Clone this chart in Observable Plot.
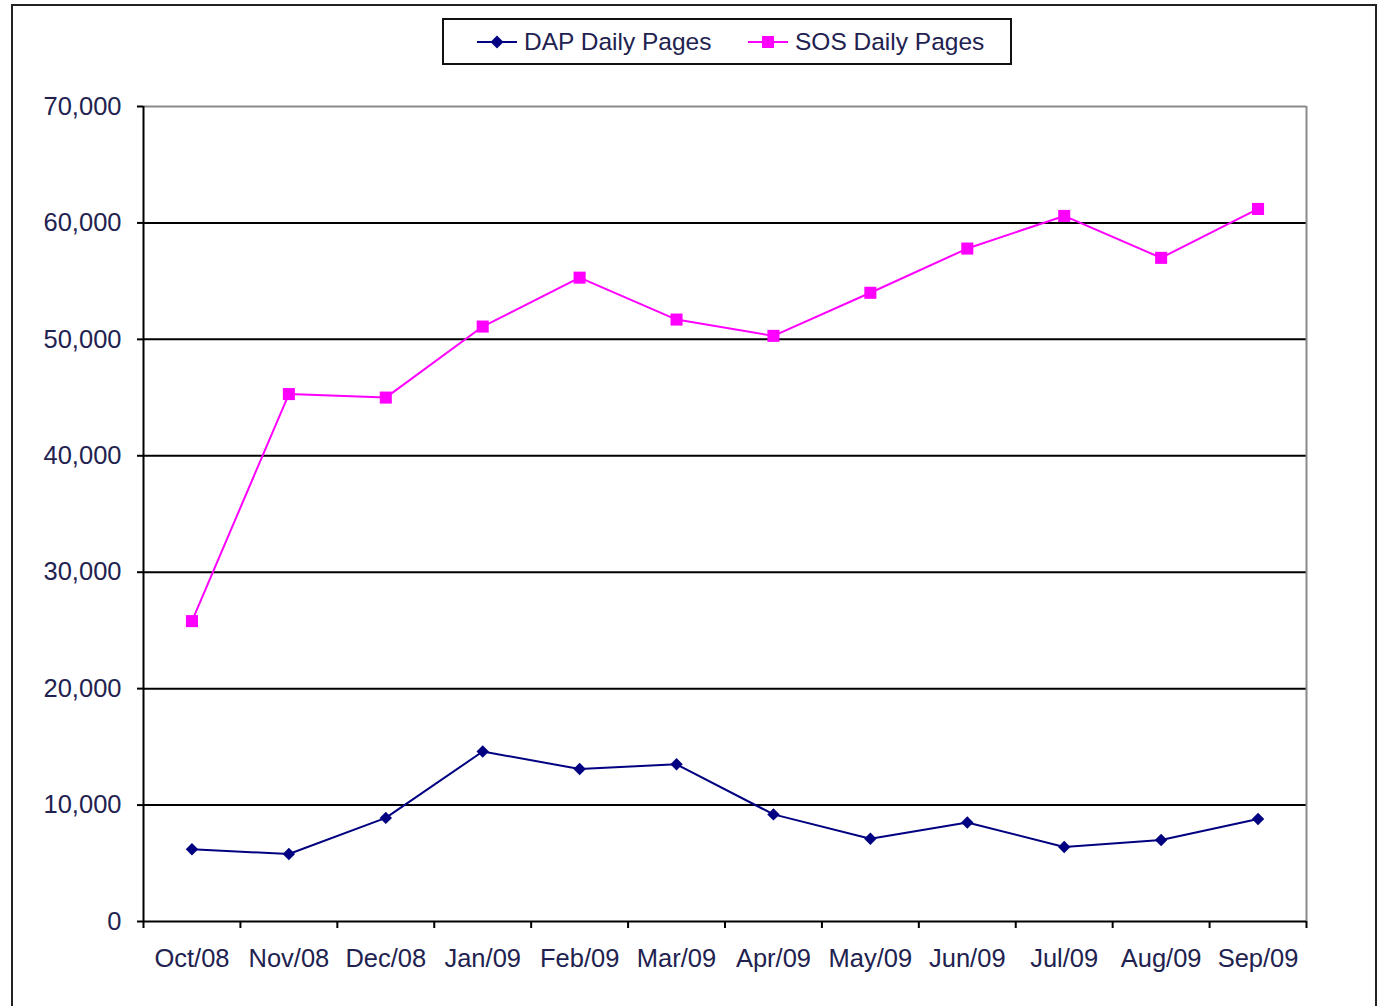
<!DOCTYPE html>
<html>
<head>
<meta charset="utf-8">
<script src="https://cdn.jsdelivr.net/npm/d3@7"></script>
<script src="https://cdn.jsdelivr.net/npm/@observablehq/plot@0.6"></script>
<style>
  html, body { margin: 0; padding: 0; background: #fff; }
  #wrap { position: relative; width: 1379px; height: 1006px; overflow: hidden; font-family: "Liberation Sans", Arial, sans-serif; }
  #frame { position: absolute; left: 11px; top: 4px; width: 1362px; height: 1020px; border: 2px solid #222; box-sizing: content-box; }
  #chart { position: absolute; left: 0; top: 0; }
  #legend { position: absolute; left: 442px; top: 18px; width: 566px; height: 43px; border: 2px solid #111; background: #fff; }
  .item { position: absolute; top: 0; height: 43px; display: flex; align-items: center; font-size: 24.5px; color: #222250; white-space: nowrap; }
  .item svg { margin-right: 5px; }
</style>
</head>
<body>
<div id="wrap">
  <div id="frame"></div>
  <div id="chart"></div>
  <div id="legend"></div>
</div>
<script>
const months = ["Oct/08","Nov/08","Dec/08","Jan/09","Feb/09","Mar/09","Apr/09","May/09","Jun/09","Jul/09","Aug/09","Sep/09"];
const dapDaily = [6200, 5800, 8900, 14600, 13100, 13500, 9200, 7100, 8500, 6400, 7000, 8800];
const sosDaily = [25800, 45300, 45000, 51100, 55300, 51700, 50300, 54000, 57800, 60600, 57000, 61200];
const yTicks = [0, 10000, 20000, 30000, 40000, 50000, 60000, 70000];
const seriesNames = ["DAP Daily Pages", "SOS Daily Pages"];
const seriesColors = ["#000080", "#ff00ff"];

const textColor = "#222250";
const fontSize = 25.5;

const dap = months.map((m, i) => ({month: m, idx: i + 0.5, value: dapDaily[i]}));
const sos = months.map((m, i) => ({month: m, idx: i + 0.5, value: sosDaily[i]}));

const plot = Plot.plot({
  width: 1379,
  height: 1006,
  marginLeft: 143,
  marginRight: 73,
  marginTop: 106,
  marginBottom: 85,
  style: {fontFamily: "'Liberation Sans', Arial, sans-serif", background: "transparent", overflow: "visible"},
  x: {type: "linear", domain: [0, months.length], label: null},
  y: {domain: [0, 70000], label: null},
  marks: [
    Plot.ruleY(yTicks.filter(d => d > 0 && d < 70000), {stroke: "#000", strokeWidth: 2}),
    Plot.ruleY([70000], {stroke: "#8a8a8a", strokeWidth: 2}),
    Plot.ruleX([months.length], {stroke: "#8a8a8a", strokeWidth: 2}),
    Plot.axisY({ticks: yTicks, tickSize: 6, tickPadding: 16, tickFormat: d3.format(","), fontSize, color: textColor, stroke: "#000", strokeWidth: 2, label: null}),
    Plot.axisX({ticks: d3.range(months.length + 1), tickSize: 7, tickFormat: () => "", stroke: "#000", strokeWidth: 2, label: null}),
    Plot.axisX({ticks: months.map((m, i) => i + 0.5), tickSize: 0, tickPadding: 27, tickFormat: d => months[Math.floor(d)], fontSize, color: textColor, label: null}),
    Plot.ruleX([0], {stroke: "#000", strokeWidth: 2}),
    Plot.ruleY([0], {stroke: "#000", strokeWidth: 2}),
    Plot.line(sos, {x: "idx", y: "value", stroke: seriesColors[1], strokeWidth: 2}),
    Plot.dot(sos, {x: "idx", y: "value", symbol: "square", r: 6.8, fill: seriesColors[1], stroke: "none"}),
    Plot.line(dap, {x: "idx", y: "value", stroke: seriesColors[0], strokeWidth: 2}),
    Plot.dot(dap, {x: "idx", y: "value", symbol: "diamond2", r: 5.6, fill: seriesColors[0], stroke: "none"})
  ]
});
document.getElementById("chart").appendChild(plot);

// Legend
const legend = document.getElementById("legend");
const lefts = [33, 304];
const syms = [
  '<path d="M20 14.5 L26.5 21 L20 27.5 L13.5 21 Z" fill="#000080"/>',
  '<rect x="14" y="15" width="12" height="12" fill="#ff00ff"/>'
];
seriesNames.forEach((name, i) => {
  const div = document.createElement("div");
  div.className = "item";
  div.style.left = lefts[i] + "px";
  div.innerHTML = `<svg width="42" height="42" viewBox="0 0 42 42"><line x1="0" x2="40" y1="21" y2="21" stroke="${seriesColors[i]}" stroke-width="2"/>${syms[i]}</svg><span>${name}</span>`;
  legend.appendChild(div);
});
</script>
</body>
</html>
